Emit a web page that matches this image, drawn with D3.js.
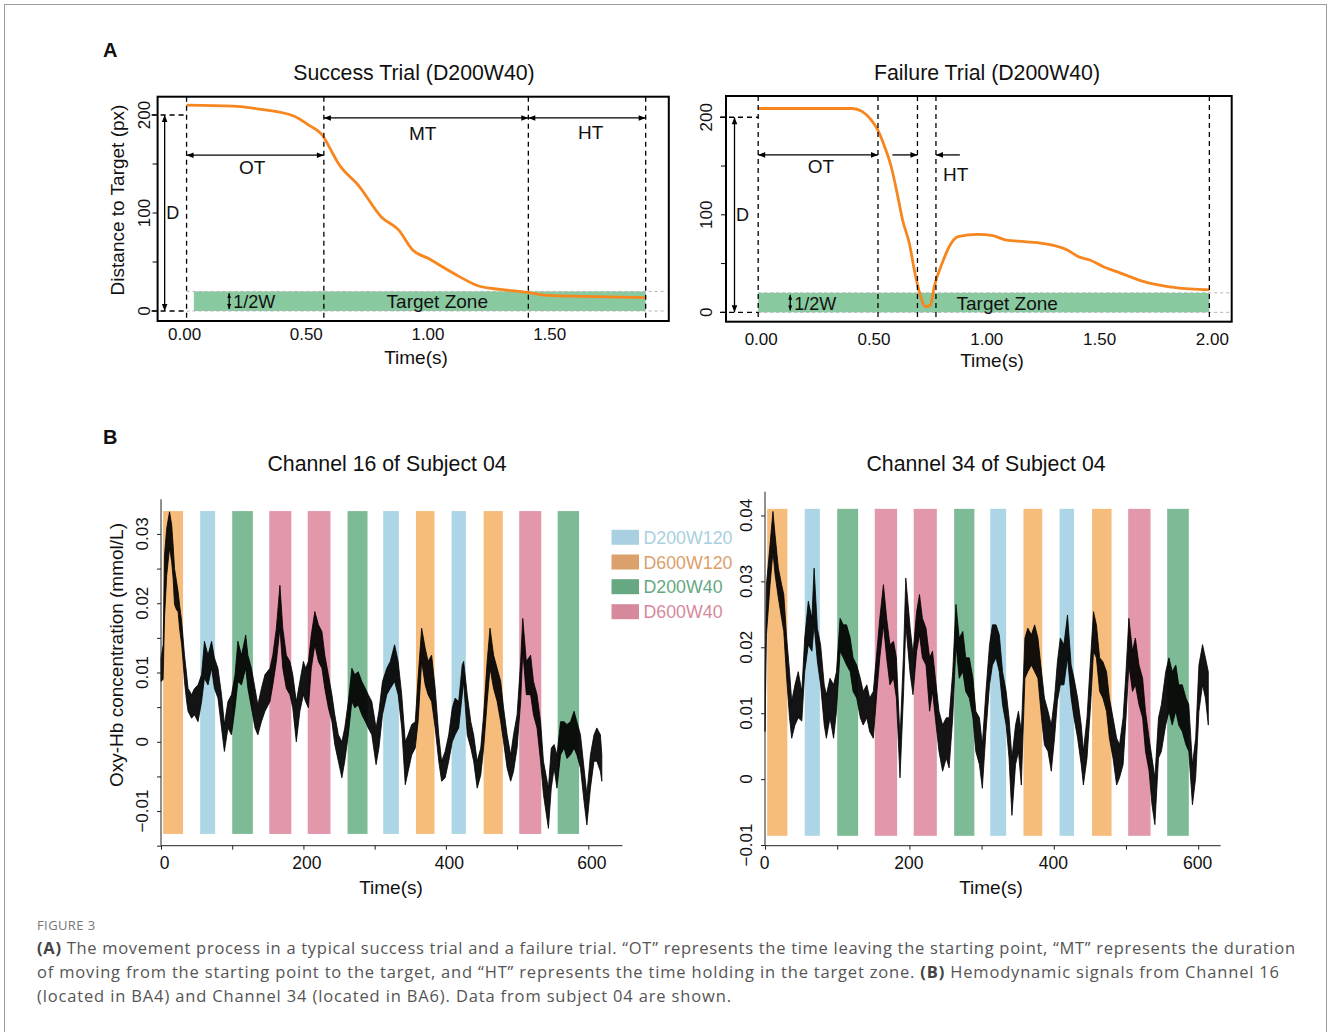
<!DOCTYPE html>
<html>
<head>
<meta charset="utf-8">
<script src="https://cdn.jsdelivr.net/npm/d3@7"></script>
<style>
  body { margin: 0; background: #fff; }
  svg text { font-family: "Liberation Sans", Arial, sans-serif; fill: #111; }
  .caption text { font-family: "Open Sans", "Noto Sans", sans-serif; }
</style>
</head>
<body>
<script>
var width = 1328,
  height = 1032;

// ---- Panel A data: distance to target (px) over time (s) ----
var successTime = [0, 0.19, 0.30, 0.44, 0.50, 0.56, 0.60, 0.62, 0.71, 0.80, 0.87, 0.93, 0.99, 1.10, 1.20, 1.29, 1.40, 1.48, 1.63, 1.886];
var successDist = [210, 209, 206, 199, 190, 178.6, 161, 152, 127, 96, 83, 62, 54, 38, 25.5, 22, 19, 16, 15, 13.6];
var successMarks = [0, 0.564, 1.404, 1.886];   // start, end of OT, end of MT, end of trial

var failureTime = [0, 0.417, 0.46, 0.50, 0.53, 0.56, 0.59, 0.616, 0.64, 0.67, 0.695, 0.716, 0.743, 0.764, 0.78, 0.815, 0.846, 0.886, 0.974, 1.04, 1.10, 1.18, 1.26, 1.37, 1.42, 1.47, 1.53, 1.59, 1.71, 1.85, 2.0];
var failureDist = [209, 209, 206, 197.6, 187, 170, 149, 122, 94.7, 70.8, 40, 19.5, 5.8, 7.5, 26, 50, 67, 77.6, 80, 78.6, 74, 72.5, 70.8, 64, 57, 53.7, 46.8, 41.7, 31.5, 25.3, 23];
var failureMarks = [0, 0.531, 0.706, 0.788, 2.0];

var targetDist = 200, halfW = 20;
var distTicks = [0, 50, 100, 150, 200], distLabels = [0, 100, 200];

// ---- Panel B data: task blocks ----
var conditions = ["D200W120", "D600W120", "D200W40", "D600W40"];
var blockStart = [3, 55, 100, 152, 206, 262, 312, 358, 408, 453, 503, 557];
var blockEnd = [31, 76, 129, 183, 238, 290, 334, 384, 428, 480, 534, 587];
var blockCond = ["D600W120", "D200W120", "D200W40", "D600W40", "D600W40", "D200W40",
  "D200W120", "D600W120", "D200W120", "D600W120", "D600W40", "D200W40"];

// Oxy-Hb trace envelopes, in 1e-3 mmol/L (low / high of the noisy band)
var time16 = [0, 3, 5, 8, 12, 15, 17, 19, 22, 24, 26, 29, 31, 33, 36, 38, 43, 47, 52, 57,
  61, 66, 71, 75, 80, 85, 89, 94, 99, 104, 108, 113, 119, 122, 127, 132, 136, 141, 146, 153,
  157, 162, 167, 171, 176, 181, 185, 190, 195, 200, 203, 207, 211, 216, 221, 226, 230, 235, 240, 244,
  249, 254, 258, 263, 268, 272, 277, 282, 287, 291, 296, 302, 306, 311, 317, 322, 328, 333, 338, 343,
  347, 352, 357, 361, 366, 371, 375, 380, 385, 390, 394, 399, 404, 409, 413, 418, 423, 425, 430, 435,
  439, 444, 449, 453, 458, 462, 467, 472, 477, 481, 486, 491, 495, 500, 505, 508, 513, 519, 523, 528,
  533, 537, 544, 548, 552, 556, 561, 566, 570, 575, 580, 584, 589, 594, 598, 603, 608, 612, 617, 619];
var high16 = [12.1, 14, 27, 30.8, 33.2, 31.3, 28.4, 25, 23, 21.7, 19.8, 17.4, 15, 12.5, 9.7, 7.7, 6.8, 7.7, 8.2, 9.7,
  14.5, 12.5, 14.5, 12.1, 10.6, 6.8, 2.5, 5.8, 6.8, 9.7, 14.5, 12.5, 15.4, 12.5, 10.6, 7.7, 5.3, 7.7, 9.7, 10.6,
  12.5, 16.4, 22.6, 16.4, 12.5, 11.6, 9.7, 5.8, 8.7, 11.6, 10.6, 11.6, 15.4, 18.8, 16.9, 15.9, 12.5, 9.7, 6.8, 3.9,
  1.0, 0, 2.0, 5.8, 10.6, 9.7, 10.1, 8.7, 7.7, 6.8, 5.8, 2.0, 4.4, 8.7, 10.6, 11.6, 14, 11.6, 6.8, 0,
  1.0, 2.5, 2.9, 9.2, 16.4, 13.5, 11.6, 12.5, 7.7, 1.0, -2.8, -1.4, 1.0, 4.9, 6.3, 5.8, 11.1, 11.6, 6.8, 2.9,
  1.0, -2.8, -0.9, 3.9, 11.6, 16.4, 12.5, 10.6, 8.7, 4.9, 1.0, -1.9, 1.0, 3.9, 11.6, 17.8, 11.6, 12.5, 8.7, 6.8,
  2.9, -2.8, -6.7, -0.9, -0.4, -1.9, 2.9, 2.9, 2.5, 2.9, 4.4, 2.9, 1.0, -3.8, -7.6, -1.9, 1.0, 2.0, 1.0, -1.9];
var low16 = [8.7, 9, 18, 24, 28, 26, 23.6, 19.8, 19, 18.8, 16.4, 14, 11.6, 8.7, 5.8, 4.4, 3.4, 3.9, 2.9, 5.8,
  9.2, 8.2, 10.6, 7.7, 6.3, 2.0, -1.4, 2.0, 1.0, 4.9, 8.7, 8.2, 10.6, 7.7, 4.9, 2.0, 1.0, 2.9, 4.4, 5.8,
  8.2, 11.6, 16.4, 10.6, 7.7, 6.8, 4.9, 0, 4.4, 6.8, 5.8, 4.9, 10.6, 14, 11.6, 10.6, 7.7, 4.9, 2.9, -0.4,
  -2.8, -5.2, -2.8, 1.0, 5.8, 4.9, 5.3, 3.9, 2.9, 2.0, 1.0, -3.3, -0.9, 3.9, 6.8, 7.7, 8.7, 6.8, 2.0, -6.2,
  -4.3, -1.9, -0.9, 2.9, 11.6, 8.2, 6.8, 5.8, 2.0, -2.8, -5.7, -5.2, -2.8, 0, 1.0, 2.0, 6.8, 8.7, 1.0, -0.9,
  -2.8, -6.7, -4.8, -0.9, 5.8, 10.6, 7.7, 5.8, 2.9, 0, -3.8, -5.7, -4.3, -0.9, 5.8, 13, 6.8, 6.8, 3.9, 2.0,
  -2.8, -7.6, -12.5, -6.7, -3.8, -6.7, -1.9, -0.9, -2.4, -1.9, -0.9, -1.9, -3.8, -8.6, -12, -6.7, -2.8, -2.8, -4.3, -5.7];

var time34 = [0, 2, 7, 11, 14, 18.5, 23, 26, 30, 34, 37, 41.5, 46, 51, 55, 60, 65, 68, 72.5, 77,
  82, 85, 90, 95, 99, 104, 108.5, 113, 118, 122, 127, 132, 136, 141, 145, 150, 155, 159, 164, 168.5,
  173, 178, 182, 187, 192, 195, 201, 205, 210, 214, 218, 223, 228, 232, 237, 241, 246, 251, 255, 260,
  264.5, 269, 274, 278, 283, 288, 292, 297, 301, 306, 311, 315, 320, 324.5, 329, 334, 338, 342, 347, 351,
  355, 360, 364, 369, 373.5, 378, 383, 387, 392, 396.5, 401, 405, 409, 414, 419, 424, 428, 433, 438, 441,
  446, 451, 455, 459, 463.5, 468, 473, 477, 482, 487, 491, 496, 500, 504, 509, 513, 518, 523, 527, 532,
  536, 540, 545, 549, 555, 559.5, 564, 569, 573, 578, 583, 587, 592, 596.5, 601, 606, 610, 614];
var high34 = [14.8, 29.5, 35.6, 40.6, 37, 32, 29.5, 28, 21.4, 16.3, 11.8, 14.3, 16.3, 13.3, 21.4, 27, 24.4, 32, 22.9, 20.4,
  14.3, 12.8, 15.3, 14.3, 16.3, 24.4, 23.4, 23.4, 21.4, 18.4, 17.3, 15.3, 13.3, 14.3, 12.3, 13.3, 19.4, 24.4, 29.5, 24.4,
  20.4, 20.9, 18.4, 6.2, 19.4, 30.5, 23, 19, 25.4, 28, 24.4, 22.9, 18.4, 19.4, 14.3, 10.3, 8.2, 9.3, 9.3, 16.3,
  26.5, 21.4, 22.4, 18.4, 18.4, 15.3, 10.3, 9.3, 5.2, 13.3, 20.4, 23.4, 23.4, 21.9, 16.3, 13.3, 9.3, 3.2, 8.2, 10.3,
  7.2, 21.4, 22.9, 21.9, 23.4, 21.4, 16.3, 12.3, 10.3, 8.2, 12.3, 17.8, 21.4, 20.4, 24.9, 17.3, 15.3, 12.3, 8.2, 4.2,
  9.3, 18.4, 25.4, 23.4, 18.4, 17.8, 16.3, 12.3, 9.3, 6.2, 5.2, 9.3, 16.3, 24.4, 19.4, 21.4, 17.3, 15.3, 10.3, 6.2,
  3.2, 0.2, 9.3, 11.3, 16.3, 18.4, 16.3, 17.3, 14.3, 14.3, 12.3, 11.3, 2.2, 6.2, 17.3, 20.4, 18.4, 16.3];
var low34 = [7.2, 21.9, 29.5, 34.5, 31, 27.5, 24.4, 22.4, 15.3, 9.3, 6.2, 8.2, 9.3, 8.8, 16.3, 20.4, 19.4, 23.4, 17.9, 14.3,
  8.2, 6.2, 9.3, 6.2, 10.3, 19.4, 18.4, 17.3, 16.3, 13.3, 12.3, 9.3, 8.2, 9.3, 7.2, 6.2, 13.3, 18.4, 23.4, 18.4,
  14.3, 15.3, 12.3, 0.2, 13.3, 23.4, 16, 12.8, 19.4, 21.9, 18.4, 17.3, 10.3, 13.3, 8.2, 4.2, 1.2, 3.2, 1.7, 9.3,
  20.4, 15.3, 16.3, 13.3, 12.3, 9.3, 4.2, 2.2, -1.4, 7.2, 14.3, 17.3, 18.4, 16.3, 11.3, 8.2, 3.2, -5.5, 2.2, 4.2,
  -0.9, 15.3, 16.3, 17.3, 16.3, 15.3, 9.3, 5.2, 4.2, 1.2, 6.2, 11.8, 14.3, 14.3, 18.4, 12.3, 9.3, 6.2, 2.2, -0.9,
  3.2, 11.3, 19.4, 18.4, 13.3, 12.3, 10.3, 6.2, 3.2, -0.9, 0.2, 2.2, 9.3, 17.3, 13.3, 14.3, 11.3, 9.3, 4.2, 1.2,
  -3.9, -6.9, 3.2, 4.2, 8.2, 10.3, 8.2, 10.3, 8.2, 7.2, 5.2, 4.2, -3.9, 0.2, 10.3, 14.3, 12.3, 8.2];

// span of the shaded task blocks (mmol/L)
var blockRange16 = [-0.0133, 0.0333];
var blockRange34 = [-0.0086, 0.041];

var barColor = { D200W120: "#acd5e5", D600W120: "#f6bc7c", D200W40: "#7dbb96", D600W40: "#e297aa" };
var legendColor = { D200W120: "#a8d0e0", D600W120: "#dba06c", D200W40: "#65a881", D600W40: "#d6899d" };
var zoneColor = "#88c9a0", curveColor = "#f7861e";

var svg = d3.select("body").append("svg")
  .attr("width", width)
  .attr("height", height);

var defs = svg.append("defs");
defs.append("marker")
  .attr("id", "arrow")
  .attr("viewBox", "0 0 10 10")
  .attr("refX", 10).attr("refY", 5)
  .attr("markerUnits", "userSpaceOnUse")
  .attr("markerWidth", 8).attr("markerHeight", 7)
  .attr("orient", "auto-start-reverse")
  .append("path").attr("d", "M0,1L10,5L0,9Z").attr("fill", "#000");
defs.append("marker")
  .attr("id", "arrowSmall")
  .attr("viewBox", "0 0 10 10")
  .attr("refX", 10).attr("refY", 5)
  .attr("markerUnits", "userSpaceOnUse")
  .attr("markerWidth", 5).attr("markerHeight", 5)
  .attr("orient", "auto-start-reverse")
  .append("path").attr("d", "M0,1L10,5L0,9Z").attr("fill", "#000");

// frame round the figure
svg.append("rect")
  .attr("x", 4.5).attr("y", 4.5)
  .attr("width", 1322).attr("height", 1100)
  .attr("fill", "none").attr("stroke", "#9c9c9c");

// panel letters
svg.append("text").attr("x", 103).attr("y", 57).attr("font-size", 20).attr("font-weight", "bold").text("A");
svg.append("text").attr("x", 103).attr("y", 444).attr("font-size", 20).attr("font-weight", "bold").text("B");

function dashed(sel, color, w, dash) {
  return sel.attr("stroke", color).attr("stroke-width", w).attr("stroke-dasharray", dash).attr("fill", "none");
}

function arrow(g, x1, y1, x2, y2, both, marker) {
  var m = "url(#" + (marker || "arrow") + ")";
  var l = g.append("line")
    .attr("x1", x1).attr("y1", y1).attr("x2", x2).attr("y2", y2)
    .attr("stroke", "#000").attr("stroke-width", 1.3)
    .attr("marker-end", m);
  if (both) l.attr("marker-start", m);
}

function label(g, x, y, txt, size, anchor) {
  return g.append("text").attr("x", x).attr("y", y)
    .attr("font-size", size).attr("text-anchor", anchor || "middle").text(txt);
}

// ---- Panel A: one trial ----
function drawTrial(c) {
  var x = d3.scaleLinear().domain(c.tDomain).range([c.left, c.right]);
  var y = d3.scaleLinear().domain(c.vDomain).range([c.bottom, c.top]);
  var g = svg.append("g");

  // target zone
  g.append("rect")
    .attr("x", x(c.zone[0])).attr("width", x(c.zone[1]) - x(c.zone[0]))
    .attr("y", y(halfW)).attr("height", y(0) - y(halfW))
    .attr("fill", zoneColor);

  [0, halfW].forEach(function (v) {
    dashed(g.append("line"), "#b4b4b4", 1, "3,3")
      .attr("x1", x(0)).attr("x2", c.right - 2)
      .attr("y1", y(v)).attr("y2", y(v));
  });

  // D guides
  [0, targetDist].forEach(function (v) {
    dashed(g.append("line"), "#000", 1.3, "5,4")
      .attr("x1", c.left - 6).attr("x2", x(0))
      .attr("y1", y(v)).attr("y2", y(v));
  });
  arrow(g, x(c.dT), y(targetDist), x(c.dT), y(0), true);
  label(g, x(c.dT) + 8, y(100) + 6, "D", 18, "middle");

  // curve
  g.append("path")
    .datum(d3.zip(c.time, c.dist))
    .attr("d", d3.line().x(function (d) { return x(d[0]); }).y(function (d) { return y(d[1]); }).curve(d3.curveMonotoneX))
    .attr("fill", "none").attr("stroke", curveColor).attr("stroke-width", 2.8);

  // phase marks
  c.marks.forEach(function (t) {
    dashed(g.append("line"), "#000", 1.3, "5,4")
      .attr("x1", x(t)).attr("x2", x(t))
      .attr("y1", c.top).attr("y2", c.bottom);
  });

  c.arrows.forEach(function (a) {
    arrow(g, x(a[0]), y(a[2]), x(a[1]), y(a[2]), a[3]);
  });
  c.labels.forEach(function (a) {
    label(g, x(a[0]), y(a[1]) + 7, a[2], 19);
  });

  // 1/2W marker
  arrow(g, x(c.halfT), y(halfW - 2), x(c.halfT), y(2), true, "arrowSmall");
  label(g, x(c.halfT) + 4, y(halfW / 2) + 7, "1/2W", 18, "start");
  label(g, x(c.zoneLabelT), y(halfW / 2) + 7, "Target Zone", 19);

  // box
  g.append("rect")
    .attr("x", c.left).attr("y", c.top)
    .attr("width", c.right - c.left).attr("height", c.bottom - c.top)
    .attr("fill", "none").attr("stroke", "#000").attr("stroke-width", 2);

  // y ticks + labels
  distTicks.forEach(function (v) {
    g.append("line").attr("x1", c.left - 5).attr("x2", c.left)
      .attr("y1", y(v)).attr("y2", y(v)).attr("stroke", "#000");
  });
  distLabels.forEach(function (v) {
    g.append("text")
      .attr("transform", "translate(" + (c.yLabelX + 6) + "," + y(v) + ")rotate(-90)")
      .attr("text-anchor", "middle").attr("font-size", 17).text(v);
  });
  c.xTicks.forEach(function (t) {
    label(g, x(t) + c.xLabelShift, c.xLabelY + 6, d3.format(".2f")(t), 17);
  });
  label(g, c.xTitleX, c.xTitleY + 7, "Time(s)", 19);
  label(g, c.titleX, 80, c.title, 21.3);
}

drawTrial({
  title: "Success Trial (D200W40)", titleX: 414,
  left: 157.6, right: 668.8, top: 96.7, bottom: 321,
  tDomain: [-0.119, 1.981], vDomain: [-10.2, 218.7],
  time: successTime, dist: successDist, marks: successMarks,
  zone: [0.03, 1.886], dT: -0.09, halfT: 0.175, zoneLabelT: 1.03,
  arrows: [[0, 0.564, 159, true], [0.564, 1.404, 197, true], [1.404, 1.886, 197, true]],
  labels: [[0.27, 147, "OT"], [0.97, 182, "MT"], [1.66, 183, "HT"]],
  yLabelX: 143.6, xTicks: [0, 0.5, 1, 1.5], xLabelShift: -2, xLabelY: 334, xTitleX: 416, xTitleY: 357
});

drawTrial({
  title: "Failure Trial (D200W40)", titleX: 987,
  left: 726, right: 1231.7, top: 96, bottom: 321.7,
  tDomain: [-0.1427, 2.099], vDomain: [-9.6, 221.8],
  time: failureTime, dist: failureDist, marks: failureMarks,
  zone: [0, 2.0], dT: -0.105, halfT: 0.142, zoneLabelT: 1.104,
  arrows: [[0, 0.531, 161.4, true], [0.595, 0.706, 161.4, false], [0.894, 0.788, 161.4, false]],
  labels: [[0.278, 150, "OT"], [0.875, 142, "HT"]],
  yLabelX: 706, xTicks: [0, 0.5, 1, 1.5, 2], xLabelShift: 3, xLabelY: 339, xTitleX: 992, xTitleY: 360
});

// y axis title for panel A
svg.append("text")
  .attr("transform", "translate(123.5,200)rotate(-90)")
  .attr("text-anchor", "middle").attr("font-size", 19)
  .text("Distance to Target (px)");

// ---- Panel B: haemodynamic trace ----
function drawSignal(c) {
  var x = d3.scaleLinear().domain([0, 600]).range([c.left, c.x600]);
  var y = d3.scaleLinear().domain(c.vDomain).range([c.bottom, c.top]);
  var g = svg.append("g");

  g.selectAll("rect.block")
    .data(blockStart)
    .enter().append("rect")
    .attr("class", "block")
    .attr("x", function (d) { return x(d); })
    .attr("width", function (d, i) { return x(blockEnd[i]) - x(d); })
    .attr("y", y(c.blockRange[1]))
    .attr("height", y(c.blockRange[0]) - y(c.blockRange[1]))
    .attr("fill", function (d, i) { return barColor[blockCond[i]]; });

  var lo = c.low.map(function (v) { return v / 1000; });
  var hi = c.high.map(function (v) { return v / 1000; });

  // noisy band: filled envelope, edges stroked
  g.append("path")
    .datum(c.time)
    .attr("d", d3.area()
      .x(function (d) { return x(d); })
      .y0(function (d, i) { return y(lo[i]); })
      .y1(function (d, i) { return y(hi[i]); }))
    .attr("fill", "#000").attr("fill-opacity", 0.92)
    .attr("stroke", "#000").attr("stroke-width", 0.8).attr("stroke-linejoin", "bevel");

  // axes
  var xAxis = g.append("g").attr("transform", "translate(0," + c.bottom + ")")
    .call(d3.axisBottom(x).tickValues([0, 100, 200, 300, 400, 500, 600]).tickSize(4)
      .tickFormat(function (d) { return d % 200 === 0 ? d : ""; }).tickPadding(7));
  xAxis.select(".domain").attr("d", "M" + c.left + ",0H" + x(c.xEnd));
  xAxis.selectAll("text").attr("font-size", 17.5).attr("fill", "#111").attr("font-family", null)
    .attr("dx", c.xLabelShift);

  var yAxis = g.append("g").attr("transform", "translate(" + c.left + ",0)")
    .call(d3.axisLeft(y).tickValues(c.yTicks).tickSize(4).tickFormat(""));
  yAxis.select(".domain").attr("d", "M0," + c.top + "V" + c.bottom);
  g.selectAll("path.domain, .tick line").attr("stroke", "#222");

  c.yLabels.forEach(function (v) {
    g.append("text")
      .attr("transform", "translate(" + (c.yLabelX + 6) + "," + y(v) + ")rotate(-90)")
      .attr("text-anchor", "middle").attr("font-size", 17)
      .text(v === 0 ? "0" : d3.format(".2f")(v));
  });

  label(g, c.xTitleX, 894, "Time(s)", 19);
  label(g, c.titleX, 471, c.title, 21.3);
}

drawSignal({
  title: "Channel 16 of Subject 04", titleX: 387,
  left: 161, x600: 588.3, xEnd: 648, top: 499.3, bottom: 845.7,
  vDomain: [-0.015, 0.035],
  time: time16, low: low16, high: high16, blockRange: blockRange16,
  yTicks: [-0.015, -0.01, -0.005, 0, 0.005, 0.01, 0.015, 0.02, 0.025, 0.03],
  yLabels: [-0.01, 0, 0.01, 0.02, 0.03], yLabelX: 141.7, xTitleX: 391, xLabelShift: 3
});

drawSignal({
  title: "Channel 34 of Subject 04", titleX: 986,
  left: 765, x600: 1198.2, xEnd: 631, top: 491.7, bottom: 845.7,
  vDomain: [-0.0101, 0.0436],
  time: time34, low: low34, high: high34, blockRange: blockRange34,
  yTicks: [-0.01, 0, 0.01, 0.02, 0.03, 0.04],
  yLabels: [-0.01, 0, 0.01, 0.02, 0.03, 0.04], yLabelX: 745.5, xTitleX: 991, xLabelShift: -1
});

svg.append("text")
  .attr("transform", "translate(123,655)rotate(-90)")
  .attr("text-anchor", "middle").attr("font-size", 19)
  .text("Oxy-Hb concentration (mmol/L)");

// legend
var legend = svg.append("g");
var legendY = [537.3, 562, 586.7, 611.7];
conditions.forEach(function (cond, i) {
  legend.append("rect")
    .attr("x", 611.5).attr("y", legendY[i] - 7.5)
    .attr("width", 27.5).attr("height", 15)
    .attr("fill", legendColor[cond]);
  legend.append("text")
    .attr("x", 643.5).attr("y", legendY[i] + 6.5)
    .attr("font-size", 17.8)
    .style("fill", legendColor[cond])
    .text(cond);
});

// caption
var cap = svg.append("g").attr("class", "caption");
cap.append("text").attr("x", 37).attr("y", 930).attr("font-size", 13)
  .attr("letter-spacing", 0.4).style("fill", "#777").text("FIGURE 3");

var capLines = [
  [["(A)", true], [" The movement process in a typical success trial and a failure trial. \u201COT\u201D represents the time leaving the starting point, \u201CMT\u201D represents the duration", false]],
  [["of moving from the starting point to the target, and \u201CHT\u201D represents the time holding in the target zone. ", false], ["(B)", true], [" Hemodynamic signals from Channel 16", false]],
  [["(located in BA4) and Channel 34 (located in BA6). Data from subject 04 are shown.", false]]
];
var capWidth = [1258, 1242, 694];
capLines.forEach(function (parts, i) {
  var t = cap.append("text")
    .attr("x", 37).attr("y", 954 + i * 24)
    .attr("font-size", 16.5)
    .attr("textLength", capWidth[i]).attr("lengthAdjust", "spacing")
    .style("fill", "#555");
  parts.forEach(function (p) {
    t.append("tspan").text(p[0])
      .attr("font-weight", p[1] ? "bold" : null)
      .style("fill", p[1] ? "#444" : "#555");
  });
});
</script>
</body>
</html>
